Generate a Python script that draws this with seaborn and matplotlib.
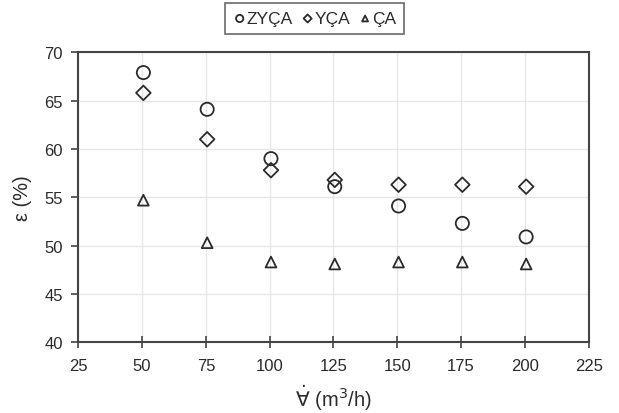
import matplotlib
matplotlib.use("Agg")
import matplotlib.pyplot as plt
import seaborn as sns
import pandas as pd

# Volumetric flow rate (m3/h) and efficiency (%) for each configuration
flow = [50.5, 75.5, 100.5, 125.5, 150.5, 175.5, 200.5]
eff_zyca = [67.9, 64.1, 59.0, 56.1, 54.1, 52.3, 50.9]
eff_yca = [65.8, 61.0, 57.8, 56.8, 56.3, 56.3, 56.1]
eff_ca = [54.7, 50.3, 48.3, 48.1, 48.3, 48.3, 48.1]

series_names = ["ZYÇA", "YÇA", "ÇA"]
series_markers = ["o", "D", "^"]
series_sizes = [90, 55, 60]

x_ticks = [25, 50, 75, 100, 125, 150, 175, 200, 225]
y_ticks = [40, 45, 50, 55, 60, 65, 70]

df = pd.DataFrame({
    "flow": flow * 3,
    "eff": eff_zyca + eff_yca + eff_ca,
    "series": [n for n in series_names for _ in flow],
})

sns.set_theme(style="white")
plt.rcParams["font.family"] = ["Liberation Sans", "DejaVu Sans"]
plt.rcParams["mathtext.fontset"] = "dejavusans"

fig = plt.figure(figsize=(6.19, 4.14), dpi=100)
ax = fig.add_axes([0.1265, 0.1708, 0.8245, 0.7005])

ink = "#2b2b2b"
for name, mk, sz in zip(series_names, series_markers, series_sizes):
    sub = df[df["series"] == name]
    sns.scatterplot(data=sub, x="flow", y="eff", marker=mk, s=sz,
                    facecolor="none", edgecolor=ink, linewidth=1.3,
                    label=name, ax=ax, zorder=3)

ax.set_xlim(25, 225)
ax.set_ylim(40, 70)
ax.set_xticks(x_ticks)
ax.set_yticks(y_ticks)
ax.grid(True, color="#e6e6e6", linewidth=1.0)
ax.set_axisbelow(True)
for sp in ax.spines.values():
    sp.set_color("#444444")
    sp.set_linewidth(1.5)
ax.tick_params(axis="both", color="#444444", width=1.2, labelsize=12,
               labelcolor=ink, bottom=True, left=True)
ax.tick_params(axis="x", direction="inout", length=8, pad=7)
ax.tick_params(axis="y", direction="out", length=5, pad=6)

ax.set_xlabel(r"$\dot{\forall}$ (m$^3$/h)", fontsize=14.5, color=ink, labelpad=7)
ax.set_ylabel("ε (%)", fontsize=14.5, color=ink, labelpad=9)

leg = ax.legend(loc="center", bbox_to_anchor=(0.508, 0.953),
                bbox_transform=fig.transFigure, ncol=3, frameon=True,
                fancybox=False, edgecolor="#444444", fontsize=12.5,
                handletextpad=0.0, columnspacing=0.45, markerscale=0.55,
                borderpad=0.45, handlelength=0.8, borderaxespad=0.2)
leg.get_frame().set_linewidth(1.2)
for t in leg.get_texts():
    t.set_color(ink)

fig.savefig("out.png", dpi=100)
